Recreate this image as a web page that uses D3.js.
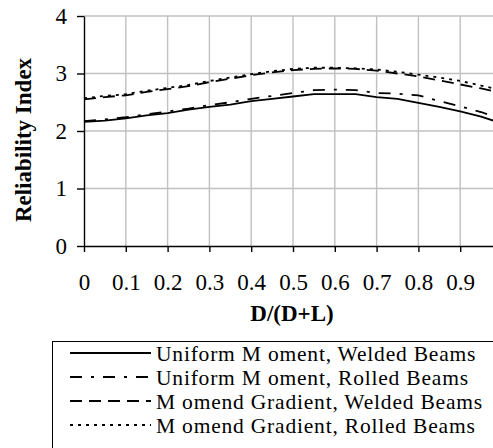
<!DOCTYPE html>
<html>
<head>
<meta charset="utf-8">
<script src="https://cdn.jsdelivr.net/npm/d3@7"></script>
<style>
  body { margin: 0; background: #fff; }
  text { font-family: 'Liberation Serif', 'Times New Roman', serif; }
</style>
</head>
<body>
<div id="chart"></div>
<script>
const ratio = [0, 0.05, 0.1, 0.15, 0.2, 0.25, 0.3, 0.35, 0.4, 0.45, 0.5, 0.55, 0.6, 0.65, 0.7, 0.75, 0.8, 0.85, 0.9, 0.95, 1.0];
const uniformWelded = [2.16, 2.18, 2.22, 2.27, 2.31, 2.37, 2.42, 2.46, 2.52, 2.56, 2.6, 2.64, 2.64, 2.64, 2.59, 2.56, 2.49, 2.42, 2.34, 2.25, 2.13];
const uniformRolled = [2.17, 2.2, 2.24, 2.29, 2.34, 2.39, 2.45, 2.5, 2.56, 2.61, 2.66, 2.71, 2.72, 2.71, 2.66, 2.65, 2.62, 2.52, 2.43, 2.33, 2.2];
const gradientWelded = [2.55, 2.59, 2.62, 2.68, 2.73, 2.78, 2.85, 2.91, 2.97, 3.02, 3.06, 3.08, 3.09, 3.08, 3.05, 3.0, 2.95, 2.88, 2.81, 2.74, 2.66];
const gradientRolled = [2.57, 2.61, 2.64, 2.7, 2.75, 2.8, 2.87, 2.93, 2.99, 3.04, 3.08, 3.1, 3.1, 3.09, 3.07, 3.03, 2.98, 2.93, 2.87, 2.79, 2.71];
const seriesNames = ['Uniform M oment, Welded Beams', 'Uniform M oment, Rolled Beams', 'M omend Gradient, Welded Beams', 'M omend Gradient, Rolled Beams'];
const xTicks = [0, 0.1, 0.2, 0.3, 0.4, 0.5, 0.6, 0.7, 0.8, 0.9];
const yTicks = [0, 1, 2, 3, 4];

const width = 493;
const height = 448;
const dashes = [null, '12,9,3,9', '12,7', '3,5'];

const series = [uniformWelded, uniformRolled, gradientWelded, gradientRolled]
  .map((vals, i) => ({ name: seriesNames[i], dash: dashes[i], points: vals.map((v, j) => [ratio[j], v]) }));

const svg = d3.select('#chart').append('svg')
  .attr('width', width)
  .attr('height', height);

const x = d3.scaleLinear().domain([0, 1]).range([84, 502]);
const y = d3.scaleLinear().domain([0, 4]).range([246, 16]);

// grid
const grid = svg.append('g').attr('stroke', '#c0c0c0').attr('stroke-width', 1.4);
grid.selectAll('.gx')
  .data([0.1, 0.2, 0.3, 0.4, 0.5, 0.6, 0.7, 0.8, 0.9, 1])
  .enter().append('line')
  .attr('x1', d => x(d)).attr('x2', d => x(d))
  .attr('y1', y(0)).attr('y2', y(4));
grid.selectAll('.gy')
  .data(yTicks.slice(1))
  .enter().append('line')
  .attr('x1', x(0)).attr('x2', x(1))
  .attr('y1', d => y(d)).attr('y2', d => y(d));

const xAxis = d3.axisBottom(x).tickValues(xTicks).tickSize(6).tickPadding(22).tickSizeOuter(0)
  .tickFormat(d3.format(''));
const yAxis = d3.axisLeft(y).tickValues(yTicks).tickSize(7).tickPadding(10).tickSizeOuter(0)
  .tickFormat(d3.format('d'));

svg.append('g')
  .attr('transform', `translate(0,${y(0)})`)
  .call(xAxis)
  .call(g => g.select('.domain').attr('stroke-width', 1.4))
  .call(g => g.selectAll('.tick line').attr('stroke-width', 1.4))
  .call(g => g.selectAll('text').attr('font-size', '23px').attr('fill', '#000'));

svg.append('g')
  .attr('transform', `translate(${x(0)},0)`)
  .call(yAxis)
  .call(g => g.select('.domain').attr('stroke-width', 1.4))
  .call(g => g.selectAll('.tick line').attr('stroke-width', 1.4))
  .call(g => g.selectAll('text').attr('font-size', '23px').attr('fill', '#000'));

svg.append('text')
  .attr('x', 292)
  .attr('y', 321)
  .attr('text-anchor', 'middle')
  .attr('font-size', '23px')
  .attr('font-weight', 'bold')
  .text('D/(D+L)');

svg.append('text')
  .attr('transform', 'translate(31,140) rotate(-90)')
  .attr('text-anchor', 'middle')
  .attr('font-size', '23px')
  .attr('font-weight', 'bold')
  .text('Reliability Index');

const line = d3.line().x(d => x(d[0])).y(d => y(d[1]));

svg.append('g')
  .selectAll('path')
  .data(series)
  .enter().append('path')
  .attr('d', d => line(d.points))
  .attr('fill', 'none')
  .attr('stroke', '#000')
  .attr('stroke-width', 1.8)
  .attr('stroke-dasharray', d => d.dash);

// legend
const legend = svg.append('g');
legend.append('rect')
  .attr('x', 52.5).attr('y', 341.5)
  .attr('width', 500).attr('height', 200)
  .attr('fill', '#fff')
  .attr('stroke', '#000')
  .attr('stroke-width', 1);

const rowY = d3.scalePoint().domain(seriesNames).range([353, 425]);
const rows = legend.selectAll('.row')
  .data(series)
  .enter().append('g')
  .attr('transform', d => `translate(0,${rowY(d.name)})`);
rows.append('line')
  .attr('x1', 70).attr('x2', 151)
  .attr('stroke', '#000')
  .attr('stroke-width', 1.8)
  .attr('stroke-dasharray', d => d.dash);
rows.append('text')
  .attr('x', 156)
  .attr('y', 8)
  .attr('font-size', '21.5px')
  .attr('letter-spacing', '0.8px')
  .text(d => d.name);
</script>
</body>
</html>
